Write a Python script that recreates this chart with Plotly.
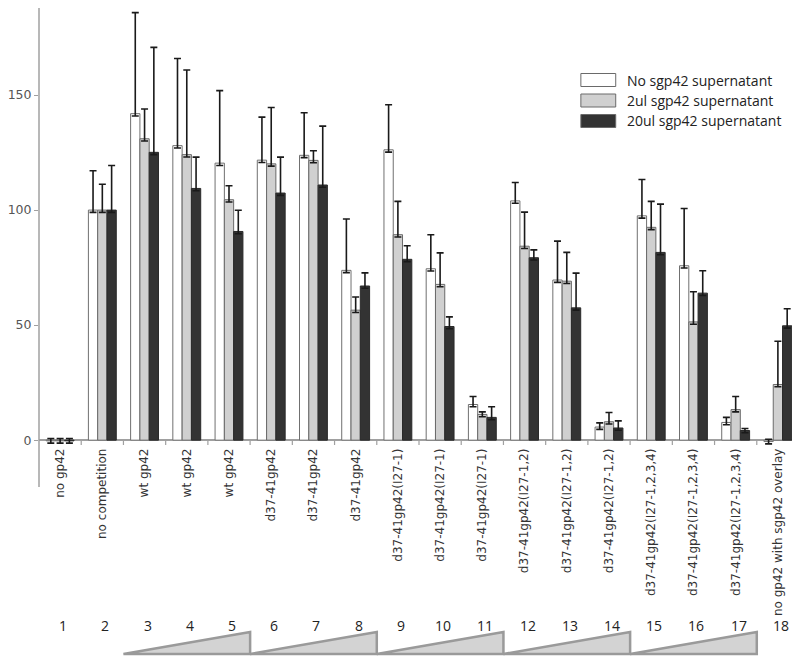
import plotly.graph_objects as go

# ---------------- data ----------------
categories = ["no gp42", "no competition", "wt gp42", "wt gp42", "wt gp42",
              "d37-41gp42", "d37-41gp42", "d37-41gp42",
              "d37-41gp42(I27-1)", "d37-41gp42(I27-1)", "d37-41gp42(I27-1)",
              "d37-41gp42(I27-1,2)", "d37-41gp42(I27-1,2)", "d37-41gp42(I27-1,2)",
              "d37-41gp42(I27-1,2,3,4)", "d37-41gp42(I27-1,2,3,4)", "d37-41gp42(I27-1,2,3,4)",
              "no gp42 with sgp42 overlay"]
lane_numbers = [str(i) for i in range(1, 19)]

series_names = ["No sgp42 supernatant", "2ul sgp42 supernatant", "20ul sgp42 supernatant"]

no_sgp42 = [-0.3, 100, 141.9, 128.0, 120.4, 121.7, 123.8, 73.8, 126.2, 74.5, 15.5,
            104.0, 69.6, 5.7, 97.5, 75.8, 7.7, -0.6]
no_sgp42_err = [1, 17.1, 43.9, 37.9, 31.5, 18.7, 18.5, 22.3, 19.6, 14.8, 3.5,
                8.0, 16.9, 1.8, 15.8, 24.9, 2.2, 1]

ul2_sgp42 = [-0.3, 100, 131.0, 124.1, 104.5, 120.1, 121.6, 56.5, 89.3, 67.7, 11.2,
             84.3, 69.1, 8.0, 92.5, 51.4, 13.3, 24.2]
ul2_sgp42_err = [1, 11.2, 12.9, 36.8, 6.1, 24.5, 4.2, 5.7, 14.5, 13.7, 1.1,
                 14.8, 12.5, 4.0, 11.3, 13.1, 5.7, 18.8]

ul20_sgp42 = [-0.3, 100, 125.1, 109.4, 90.7, 107.4, 110.9, 67.0, 78.6, 49.4, 9.9,
              79.3, 57.5, 5.3, 81.6, 63.9, 4.2, 49.7]
ul20_sgp42_err = [1, 19.4, 45.6, 13.6, 9.2, 15.6, 25.6, 5.7, 5.9, 4.2, 4.6,
                  3.4, 15.1, 3.1, 21.0, 9.7, 0.9, 7.4]

err_minus = [1] * 18

# lanes (1-based) covered by each increasing-concentration wedge
dose_series = [(3, 5), (6, 8), (9, 11), (12, 14), (15, 17)]

# ---------------- layout constants ----------------
OFF = 8                      # page body margin
W, H = 800 - OFF, 657 - OFF
ML, MR, MT, MB = 28, 1, 0, 212
PH = H - MT - MB
PW = W - ML - MR
Y_MIN = -2.1
Y_MAX = (440 - OFF) / 2.3    # zero line at page row 440, 2.3 px per unit


def py(pix):
    """page pixel row -> paper y"""
    return (H - MB - (pix - OFF)) / PH


def px(pix):
    """page pixel column -> paper x"""
    return (pix - OFF - ML) / PW


x = list(range(len(categories)))
fills = ["#ffffff", "#d0d0d0", "#333333"]
lines = ["#707070", "#6a6a6a", "#2a2a2a"]
vals = [no_sgp42, ul2_sgp42, ul20_sgp42]
errs = [no_sgp42_err, ul2_sgp42_err, ul20_sgp42_err]

fig = go.Figure()
for name, v, e, fc, lc in zip(series_names, vals, errs, fills, lines):
    fig.add_trace(go.Bar(
        x=x, y=v, name=name,
        marker=dict(color=fc, line=dict(color=lc, width=1)),
        error_y=dict(type="data", array=e, arrayminus=err_minus, symmetric=False,
                     color="#1a1a1a", thickness=1.6, width=3.5),
        showlegend=False,
    ))

shapes = []
# y axis line, extending below the zero line
shapes.append(dict(type="line", xref="paper", yref="paper", x0=0, x1=0,
                   y0=1, y1=py(487), line=dict(color="#a0a0a0", width=1.5)))
# boundary tick marks below the zero line
for b in range(1, len(categories) + 1):
    shapes.append(dict(type="line", xref="x", yref="y", ysizemode="pixel", yanchor=0,
                       x0=b - 0.5, x1=b - 0.5, y0=0, y1=-5,
                       line=dict(color="#a0a0a0", width=1.2)))
# wedges
for a, b in dose_series:
    x0 = a - 1.5
    x1 = b - 0.5
    path = f"M {x0},{py(654)} L {x1},{py(654)} L {x1},{py(632)} Z"
    shapes.append(dict(type="path", xref="x", yref="paper", path=path,
                       fillcolor="#d3d3d3", line=dict(color="#9a9a9a", width=2.5)))

# custom legend
legend_rows = [80, 100.5, 121]
for name, fc, ry in zip(series_names, fills, legend_rows):
    shapes.append(dict(type="rect", xref="paper", yref="paper",
                       x0=px(580), x1=px(615), y0=py(ry + 6.5), y1=py(ry - 6.5),
                       fillcolor=fc, line=dict(color="#6a6a6a", width=1)))

annotations = []
for name, ry in zip(series_names, legend_rows):
    annotations.append(dict(xref="paper", yref="paper", x=px(624), y=py(ry),
                            text=name, showarrow=False, xanchor="left", yanchor="middle",
                            font=dict(family="Open Sans", size=14, color="#222222")))
for i, lab in enumerate(lane_numbers):
    annotations.append(dict(xref="x", yref="paper", x=i, y=py(625), xshift=3,
                            text=lab, showarrow=False, xanchor="center", yanchor="middle",
                            font=dict(family="Open Sans", size=14, color="#222222")))

fig.update_layout(
    width=W, height=H,
    margin=dict(l=ML, r=MR, t=MT, b=MB, pad=0),
    paper_bgcolor="white", plot_bgcolor="white",
    barmode="group", bargap=0.34, bargroupgap=0,
    shapes=shapes, annotations=annotations,
    showlegend=False,
    xaxis=dict(range=[-0.5, len(categories) - 0.5], tickmode="array",
               tickvals=x, ticktext=categories, tickangle=-90,
               anchor="free", position=-Y_MIN / (Y_MAX - Y_MIN),
               showline=False, showgrid=False, zeroline=False, ticks="",
               ticklabelstandoff=5,
               tickfont=dict(family="DejaVu Sans", size=12, color="#333333")),
    yaxis=dict(range=[Y_MIN, Y_MAX], tickmode="array", tickvals=[0, 50, 100, 150],
               showgrid=False, showline=False, zeroline=True, zerolinecolor="#a0a0a0",
               zerolinewidth=1.5, ticks="outside", ticklen=4, tickcolor="#a0a0a0",
               tickfont=dict(family="DejaVu Sans", size=12.5, color="#555555")),
)

fig.write_html("out.html")
